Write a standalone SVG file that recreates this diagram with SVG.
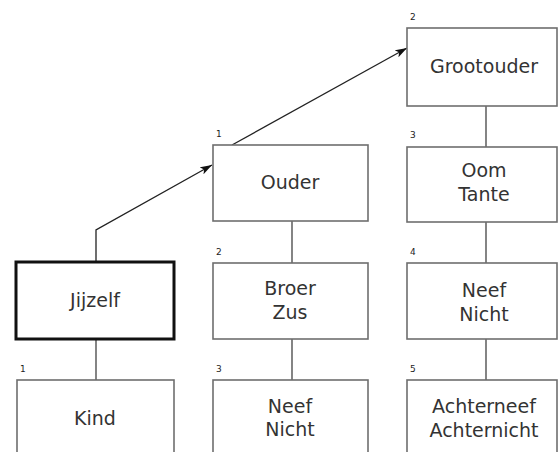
<svg xmlns="http://www.w3.org/2000/svg" width="558" height="452" viewBox="0 0 558 452">
<defs>
<style>
.box{fill:#fff;stroke:#6e6e6e;stroke-width:1.6}
.self{fill:#fff;stroke:#111;stroke-width:3}
.t{font-family:"DejaVu Sans","Liberation Sans",sans-serif;font-size:19px;fill:#333;text-anchor:middle}
.n{font-family:"DejaVu Sans","Liberation Sans",sans-serif;font-size:9px;fill:#222}
.c{stroke:#666;stroke-width:1.6;fill:none}
.a{stroke:#222;stroke-width:1.3;fill:none}
</style>
<marker id="ah" viewBox="0 0 12 8" refX="12" refY="4" markerWidth="12" markerHeight="8" markerUnits="userSpaceOnUse" orient="auto">
<path d="M0,0 L12,4 L0,8 L3,4 Z" fill="#111"/>
</marker>
</defs>
<rect width="558" height="452" fill="#fff"/>
<g id="connectors">
<line class="c" x1="96" y1="339" x2="96" y2="380"/>
<line class="c" x1="292" y1="221" x2="292" y2="263"/>
<line class="c" x1="292" y1="339" x2="292" y2="380"/>
<line class="c" x1="486" y1="106" x2="486" y2="147"/>
<line class="c" x1="486" y1="222" x2="486" y2="263"/>
<line class="c" x1="486" y1="339" x2="486" y2="380"/>
<polyline class="a" points="96,262 96,230 212,165" marker-end="url(#ah)"/>
<line class="a" x1="232" y1="145" x2="407" y2="48" marker-end="url(#ah)"/>
</g>
<g id="jijzelf">
<rect class="self" x="16" y="262" width="158" height="77"/>
<text class="t" x="95" y="307">Jijzelf</text>
</g>
<g id="kind">
<rect class="box" x="17" y="380" width="157" height="80"/>
<text class="n" x="20" y="372">1</text>
<text class="t" x="95" y="425">Kind</text>
</g>
<g id="ouder">
<rect class="box" x="213" y="145" width="155" height="76"/>
<text class="n" x="216" y="137">1</text>
<text class="t" x="290" y="189">Ouder</text>
</g>
<g id="broerzus">
<rect class="box" x="213" y="263" width="155" height="76"/>
<text class="n" x="216" y="255">2</text>
<text class="t" x="290" y="295">Broer</text>
<text class="t" x="290" y="319">Zus</text>
</g>
<g id="neefnicht2">
<rect class="box" x="213" y="380" width="155" height="80"/>
<text class="n" x="216" y="372">3</text>
<text class="t" x="290" y="413">Neef</text>
<text class="t" x="290" y="436">Nicht</text>
</g>
<g id="grootouder">
<rect class="box" x="407" y="28" width="150" height="78"/>
<text class="n" x="410" y="20">2</text>
<text class="t" x="484" y="73">Grootouder</text>
</g>
<g id="oomtante">
<rect class="box" x="407" y="147" width="150" height="75"/>
<text class="n" x="410" y="138">3</text>
<text class="t" x="484" y="177">Oom</text>
<text class="t" x="484" y="201">Tante</text>
</g>
<g id="neefnicht3">
<rect class="box" x="407" y="263" width="150" height="76"/>
<text class="n" x="410" y="255">4</text>
<text class="t" x="484" y="297">Neef</text>
<text class="t" x="484" y="321">Nicht</text>
</g>
<g id="achterneef">
<rect class="box" x="407" y="380" width="150" height="80"/>
<text class="n" x="410" y="372">5</text>
<text class="t" x="484" y="413">Achterneef</text>
<text class="t" x="484" y="437">Achternicht</text>
</g>
</svg>
